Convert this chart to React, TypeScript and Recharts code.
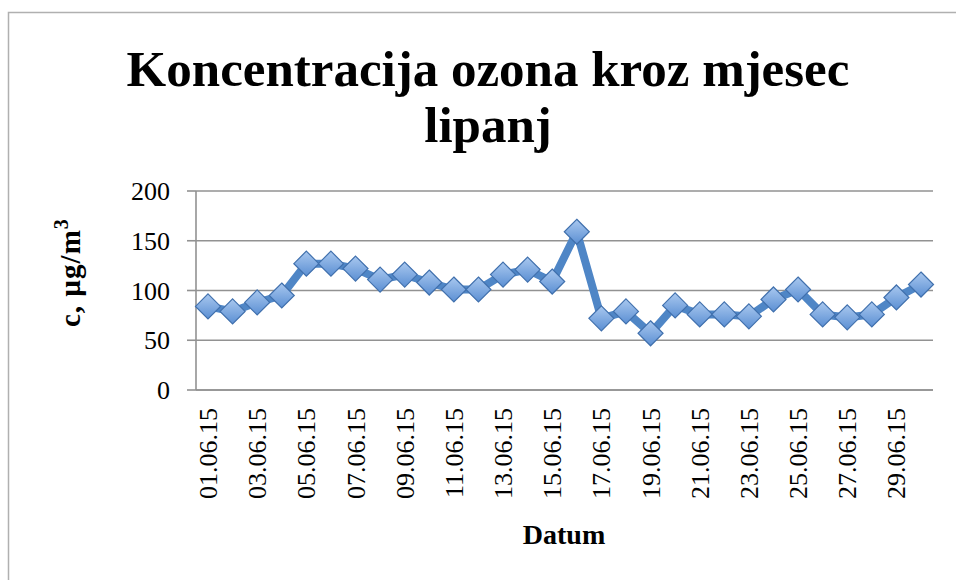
import React from "react";
import { CartesianGrid, Line, LineChart, XAxis, YAxis } from "recharts";

const dates = [
  "01.06.15", "02.06.15", "03.06.15", "04.06.15", "05.06.15", "06.06.15",
  "07.06.15", "08.06.15", "09.06.15", "10.06.15", "11.06.15", "12.06.15",
  "13.06.15", "14.06.15", "15.06.15", "16.06.15", "17.06.15", "18.06.15",
  "19.06.15", "20.06.15", "21.06.15", "22.06.15", "23.06.15", "24.06.15",
  "25.06.15", "26.06.15", "27.06.15", "28.06.15", "29.06.15", "30.06.15",
];

const ozone = [
  84, 79, 88, 95, 127, 127, 122, 111, 116, 108, 101, 101, 116, 121, 109,
  159, 72, 79, 57, 85, 76, 76, 74, 91, 101, 76, 73, 76, 93, 106,
];

const yTicks = [0, 50, 100, 150, 200];

const data = dates.map((d, i) => ({ date: d, c: ozone[i] }));

const FONT = "'Liberation Serif', 'DejaVu Serif', serif";

function DateTick({ x, y, payload }: any) {
  return (
    <text
      transform={`translate(${x + 9},${y + 18}) rotate(-90)`}
      textAnchor="end"
      fontSize={26}
      fontFamily={FONT}
      fill="#000"
    >
      {payload.value}
    </text>
  );
}

function Diamond(props: any) {
  const { cx, cy, index } = props;
  if (cx == null || cy == null) return null;
  const r = 12.5;
  return (
    <path
      key={`d-${index}`}
      d={`M${cx},${cy - r} L${cx + r},${cy} L${cx},${cy + r} L${cx - r},${cy} Z`}
      fill="url(#diamondFill)"
      stroke="#4070ad"
      strokeWidth={1.2}
    />
  );
}

export default function App() {
  return (
    <div style={{ position: "absolute", left: 0, top: 0, width: 956, height: 580, overflow: "hidden", background: "#fff" }}>
      <LineChart
        width={956}
        height={580}
        data={data}
        margin={{ top: 191, right: 23, bottom: 0, left: 0 }}
      >
        <defs>
          <linearGradient id="diamondFill" x1="0" y1="0" x2="0" y2="1">
            <stop offset="0%" stopColor="#a9c8ef" />
            <stop offset="100%" stopColor="#5b8fd3" />
          </linearGradient>
        </defs>
        <CartesianGrid vertical={false} stroke="#929292" strokeWidth={1.6} />
        <XAxis
          dataKey="date"
          interval={1}
          height={190}
          padding={{ left: 12, right: 12 }}
          tickLine={false}
          tickSize={0}
          tickMargin={0}
          tick={<DateTick />}
          axisLine={{ stroke: "#929292", strokeWidth: 1.6 }}
        />
        <YAxis
          domain={[0, 200]}
          ticks={yTicks}
          width={196}
          tickSize={9}
          tickMargin={17}
          tick={{ fontSize: 26, fontFamily: FONT, fill: "#000" }}
          tickLine={{ stroke: "#929292", strokeWidth: 1.6 }}
          axisLine={{ stroke: "#929292", strokeWidth: 1.6 }}
        />
        <Line
          type="linear"
          dataKey="c"
          stroke="#4f86c6"
          strokeWidth={8}
          dot={Diamond}
          activeDot={false}
          isAnimationActive={false}
        />
      </LineChart>
      <svg
        width={956}
        height={580}
        style={{ position: "absolute", left: 0, top: 0, pointerEvents: "none" }}
      >
        <path d="M8.5,580 L8.5,12.5 L956,12.5" fill="none" stroke="#b0b0b0" strokeWidth={1.5} />
        <text x={488} y={86} textAnchor="middle" fontSize={51} fontWeight="bold" fontFamily={FONT}>
          Koncentracija ozona kroz mjesec
        </text>
        <text x={488} y={142} textAnchor="middle" fontSize={51} fontWeight="bold" fontFamily={FONT}>
          lipanj
        </text>
        <text
          transform="translate(80,327) rotate(-90)"
          textAnchor="start"
          fontSize={29}
          fontWeight="bold"
          fontFamily={FONT}
          letterSpacing={1}
        >
          c, µg/m<tspan dy={-12} fontSize={20}>3</tspan>
        </text>
        <text x={564} y={544} textAnchor="middle" fontSize={28} fontWeight="bold" fontFamily={FONT}>
          Datum
        </text>
      </svg>
    </div>
  );
}
